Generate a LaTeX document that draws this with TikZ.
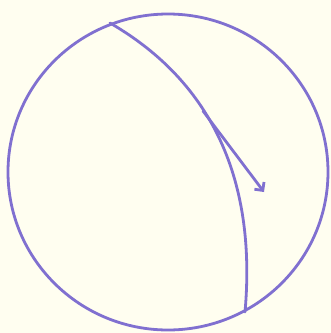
\documentclass[tikz,border=0pt]{standalone}
\usepackage{tikz}
\usetikzlibrary{arrows.meta}
\usepackage{xcolor}
\definecolor{crayon}{RGB}{128,112,208}
\definecolor{paper}{RGB}{255,254,240}

\begin{document}
\begin{tikzpicture}[x=1pt,y=-1pt,>={Straight Barb[length=6pt,width=12pt]},line cap=round,line join=round]
\fill[paper] (0,0) rectangle (331,333);
\useasboundingbox (0,0) rectangle (331,333);
\tikzset{sketch/.style={crayon,line width=2.8pt}}
\draw[sketch] (168,172) ellipse[x radius=160,y radius=158];
\draw[sketch] (110,23) .. controls (200,75) and (258,165) .. (245,312);
\draw[sketch,->] (203,111) -- (264,192);
\end{tikzpicture}
\end{document}
